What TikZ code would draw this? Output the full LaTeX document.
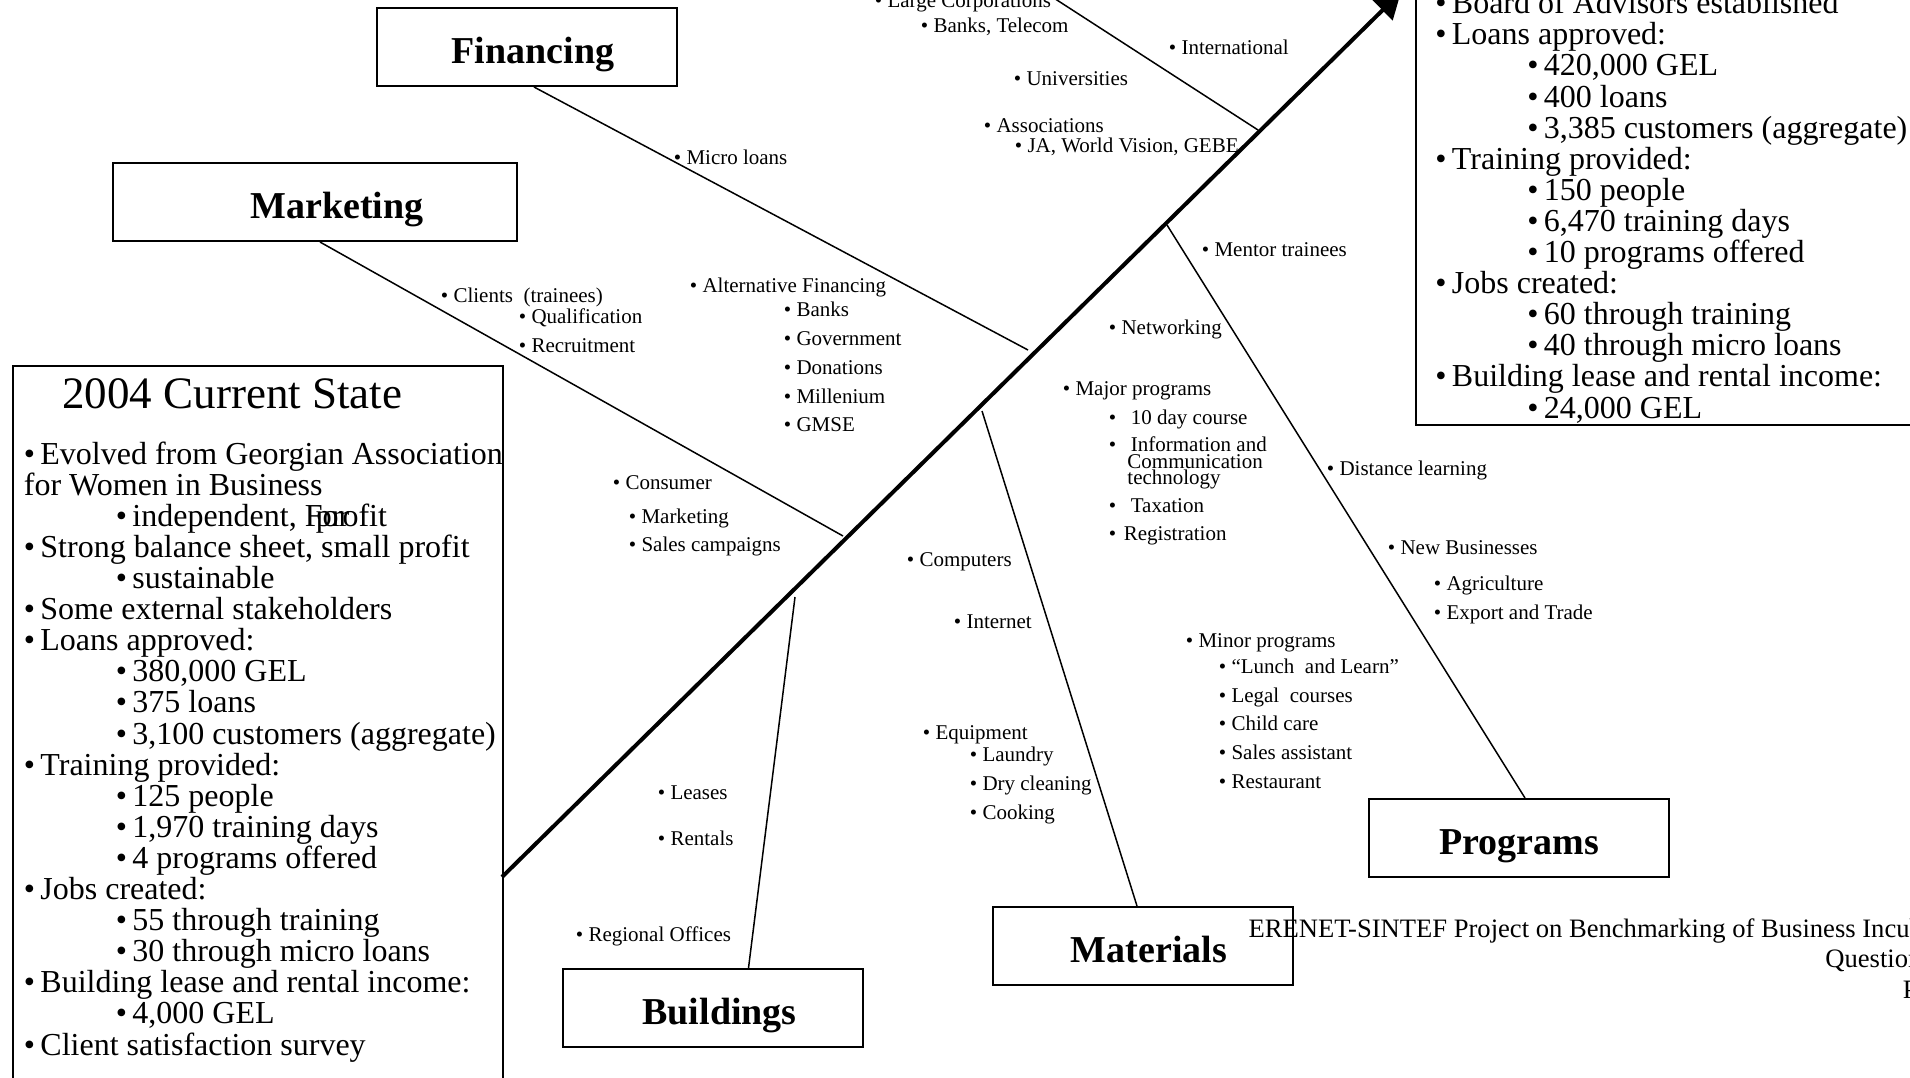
\documentclass[tikz,border=0pt]{standalone}
\usepackage{fontspec}
\setmainfont{Liberation Serif}
\usetikzlibrary{arrows.meta,positioning}

\newcommand\topb{•\,}
\newcommand\subb{\hspace*{46pt}•\,}

\tikzset{
  cause/.style={draw, line width=1pt, minimum width=150pt, minimum height=39pt, inner sep=0pt, text height=20pt, text depth=4pt, font=\bfseries\fontsize{19}{20}\selectfont},
  bone/.style={line width=0.75pt},
  spine/.style={line width=2pt, -{Triangle[length=13pt,width=14pt]}},
  lbl/.style={anchor=west, inner sep=0pt, xshift=-1.75pt, font=\fontsize{10.5}{8.25}\selectfont, text height=7.5pt, text depth=0.5pt},
  big/.style={anchor=base west, inner sep=0pt, align=left, font=\fontsize{16}{15.55}\selectfont},
  panel/.style={draw, line width=1pt, inner sep=0pt},
}

\begin{document}
\begin{tikzpicture}[x=0.5pt, y=-0.5pt]
	\useasboundingbox (0,0) rectangle (1910,1077);

	\node[cause] (fin) at (527,47) {\hspace*{6pt}Financing};
	\node[cause, minimum width=202pt] (mkt) at (315,202) {\hspace*{22pt}Marketing};
	\node[cause] (bld) at (712.5,1008) {\hspace*{7pt}Buildings};
	\node[cause] (mat) at (1143,946) {\hspace*{6pt}Materials};
	\node[cause] (prg) at (1519,838) {Programs};

	\node[panel, anchor=north west, minimum width=245pt, minimum height=362pt] (cur) at (12,365) {};
	\node[panel, anchor=south west, minimum width=250pt, minimum height=218pt] (goal) at (1415,426) {};

	\coordinate (tail) at (502,877);
	\coordinate (head) at (1401,-8);
	\coordinate (corp) at (995,-40);
	\coordinate (jtop) at (1258,130);
	\coordinate (jfin) at (1028,350);
	\coordinate (jmkt) at (843,536);
	\coordinate (jbld) at (795,597);
	\coordinate (jmat) at (982,411);
	\coordinate (jprg) at (1167,225);

	\draw[spine] (tail) -- (head);
	\draw[bone] (corp) -- (jtop);
	\draw[bone] ([xshift=3.5pt]fin.south) -- (jfin);
	\draw[bone] ([xshift=2.5pt]mkt.south) -- (jmkt);
	\draw[bone] ([xshift=18pt]bld.north) -- (jbld);
	\draw[bone] ([xshift=-3pt]mat.north) -- (jmat);
	\draw[bone] ([xshift=3pt]prg.north) -- (jprg);

	\node[big, font=\fontsize{22.5}{24}\selectfont] (title) at (62,408) {2004 Current State};
	% base of a multi-line node = baseline of its last line
	\node[big] (curtxt) at (23.5,1055) {\topb Evolved from Georgian Association\\
		for Women in Business\\
		\subb independent, \rlap{For}\kern5.5pt profit\\
		\topb Strong balance sheet, small profit\\
		\subb sustainable\\
		\topb Some external stakeholders\\
		\topb Loans approved:\\
		\subb 380,000 GEL\\
		\subb 375 loans\\
		\subb 3,100 customers (aggregate)\\
		\topb Training provided:\\
		\subb 125 people\\
		\subb 1,970 training days\\
		\subb 4 programs offered\\
		\topb Jobs created:\\
		\subb 55 through training\\
		\subb 30 through micro loans\\
		\topb Building lease and rental income:\\
		\subb 4,000 GEL\\
		\topb Client satisfaction survey};
	\node[big] (goaltxt) at (1435,418) {\topb Board of Advisors established\\
		\topb Loans approved:\\
		\subb 420,000 GEL\\
		\subb 400 loans\\
		\subb 3,385 customers (aggregate)\\
		\topb Training provided:\\
		\subb 150 people\\
		\subb 6,470 training days\\
		\subb 10 programs offered\\
		\topb Jobs created:\\
		\subb 60 through training\\
		\subb 40 through micro loans\\
		\topb Building lease and rental income:\\
		\subb 24,000 GEL};

	\node[lbl] (lcorp) at (878,0) {• Large Corporations};
	\node[lbl] (ltel) at (924,25) {• Banks, Telecom};
	\node[lbl] (lint) at (1172,47) {• International};
	\node[lbl] (luni) at (1017,78) {• Universities};
	\node[lbl] (lass) at (987,125) {• Associations};
	\node[lbl] (lja) at (1018,145) {• JA, World Vision, GEBE};
	\node[lbl] (lmic) at (677,157) {• Micro loans};
	\node[lbl] (lcli) at (444,295) {• Clients\ \ (trainees)};
	\node[lbl] (lqua) at (522,316) {• Qualification};
	\node[lbl] (lrec) at (522,345) {• Recruitment};
	\node[lbl] (lalt) at (693,285) {• Alternative Financing};
	\node[lbl] (lbnk) at (787,309) {• Banks};
	\node[lbl] (lgov) at (787,338) {• Government};
	\node[lbl] (ldon) at (787,367) {• Donations};
	\node[lbl] (lmil) at (787,396) {• Millenium};
	\node[lbl] (lgms) at (787,424) {• GMSE};
	\node[lbl] (lcon) at (616,482) {• Consumer};
	\node[lbl] (lmkt) at (632,516) {• Marketing};
	\node[lbl] (lsal) at (632,544) {• Sales campaigns};
	\node[lbl] (lmen) at (1205,249) {• Mentor trainees};
	\node[lbl] (lnet) at (1112,327) {• Networking};
	\node[lbl] (lmaj) at (1066,388) {• Major programs};
	\node[lbl] (lday) at (1112,417) {•\hspace{7.3pt}10 day course};
	\node[lbl] (linf) at (1112,444) {•\hspace{7.3pt}Information and};
	\node[lbl] (lcom) at (1130.5,461) {Communication};
	\node[lbl] (ltec) at (1130.5,477) {technology};
	\node[lbl] (ltax) at (1112,505) {•\hspace{7.3pt}Taxation};
	\node[lbl] (lreg) at (1112,533) {•\hspace{3.8pt}Registration};
	\node[lbl] (ldis) at (1330,468) {• Distance learning};
	\node[lbl] (lnew) at (1391,547) {• New Businesses};
	\node[lbl] (lagr) at (1437,583) {• Agriculture};
	\node[lbl] (lexp) at (1437,612) {• Export and Trade};
	\node[lbl] (lcmp) at (910,559) {• Computers};
	\node[lbl] (lnet2) at (957,621) {• Internet};
	\node[lbl] (lmin) at (1189,640) {• Minor programs};
	\node[lbl] (llun) at (1222,666) {• “Lunch\ \ and Learn”};
	\node[lbl] (lleg) at (1222,695) {• Legal\ \ courses};
	\node[lbl] (lchi) at (1222,723) {• Child care};
	\node[lbl] (lsas) at (1222,752) {• Sales assistant};
	\node[lbl] (lres) at (1222,781) {• Restaurant};
	\node[lbl] (lequ) at (926,732) {• Equipment};
	\node[lbl] (llau) at (973,754) {• Laundry};
	\node[lbl] (ldry) at (973,783) {• Dry cleaning};
	\node[lbl] (lcoo) at (973,812) {• Cooking};
	\node[lbl] (llea) at (661,792) {• Leases};
	\node[lbl] (lren) at (661,838) {• Rentals};
	\node[lbl] (lreo) at (579,934) {• Regional Offices};

	\node[big, anchor=base east, align=right, font=\fontsize{13.3}{15.25}\selectfont] (foot) at (1975,998) {ERENET-SINTEF Project on Benchmarking of Business Incubators\\
		Questionnaire\\
		Page 1};
\end{tikzpicture}
\end{document}
